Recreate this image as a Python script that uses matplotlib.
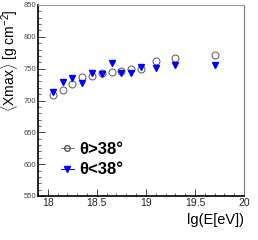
"""Mean Xmax vs energy for two zenith-angle bands."""
import matplotlib
matplotlib.use("Agg")
import matplotlib.pyplot as plt
from matplotlib.lines import Line2D
from matplotlib.ticker import MultipleLocator, FormatStrFormatter

plt.rcParams["font.family"] = ["Liberation Sans", "DejaVu Sans"]
plt.rcParams["mathtext.fontset"] = "custom"
plt.rcParams["mathtext.rm"] = "Liberation Sans"

# lg(E/eV) bin centres
LGE = [18.05, 18.15, 18.25, 18.35, 18.45, 18.55, 18.65, 18.75, 18.85, 18.95,
       19.10, 19.30, 19.70]
# <Xmax> for theta > 38 deg (open circles)
XMAX_HI = [708, 716, 725.5, 737, 738.5, 742.5, 745, 746.5, 750, 749,
           762.5, 767.5, 771]
# <Xmax> for theta < 38 deg (blue down triangles)
XMAX_LO = [713.5, 729.5, 735, 728, 742.5, 741.5, 759, 742.5, 743, 752,
           750.5, 755.5, 755.5]

LABEL_HI = "θ>38°"
LABEL_LO = "θ<38°"


def main():
    fig = plt.figure(figsize=(2.58, 2.40), dpi=100)
    ax = fig.add_axes([38 / 258, 1 - 196 / 240, 206 / 258, 191 / 240])

    ax.plot(LGE, XMAX_HI, ls="none", marker="o", ms=5, mfc="none",
            mec="#555555", mew=0.7)
    ax.plot(LGE, XMAX_LO, ls="none", marker="v", ms=5, color="#0000ff")

    ax.set_xlim(17.9, 20)
    ax.set_ylim(550, 850)
    ax.xaxis.set_major_locator(MultipleLocator(0.5))
    ax.xaxis.set_minor_locator(MultipleLocator(0.1))
    ax.xaxis.set_major_formatter(FormatStrFormatter("%g"))
    ax.yaxis.set_major_locator(MultipleLocator(50))
    ax.yaxis.set_minor_locator(MultipleLocator(10))
    ax.tick_params(which="both", direction="in", top=False, right=False,
                   color="#222222")
    ax.tick_params(which="major", length=5, width=0.6)
    ax.tick_params(which="minor", length=2.5, width=0.5)
    ax.tick_params(axis="x", labelsize=7.5, pad=1.5, labelcolor="#222222")
    ax.tick_params(axis="y", labelsize=5.5, pad=1.5, labelcolor="#444444")

    for side in ("left", "bottom"):
        ax.spines[side].set_linewidth(1.2)
        ax.spines[side].set_color("black")
    ax.spines["top"].set_color("#999999")
    ax.spines["right"].set_color("#777777")
    ax.spines["top"].set_linewidth(0.8)
    ax.spines["right"].set_linewidth(0.8)

    ax.set_xlabel("lg(E[eV])", fontsize=10.5, ha="right")
    ax.xaxis.set_label_coords(1.0, -0.09)
    ax.set_ylabel(r"$\langle$Xmax$\rangle$ [g cm$^{-2}$]", fontsize=10,
                  ha="right")
    ax.yaxis.set_label_coords(-0.085, 0.975)

    handles = [
        Line2D([], [], marker="o", ms=4, mfc="none", mec="#555555",
               color="#777777", lw=0.7),
        Line2D([], [], marker="v", ms=4, color="#0000ff", lw=0.7),
    ]
    ax.legend(handles, [LABEL_HI, LABEL_LO], loc="upper left",
              bbox_to_anchor=(0.11, 0.285), frameon=False,
              prop={"size": 12, "weight": "bold"}, handlelength=0.8,
              handletextpad=0.3, labelspacing=0.35, borderaxespad=0,
              borderpad=0)

    fig.savefig("out.png", dpi=100)


if __name__ == "__main__":
    main()
